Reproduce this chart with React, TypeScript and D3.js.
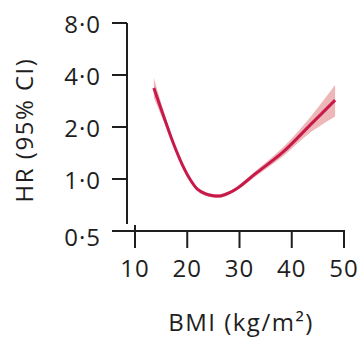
import React from "react";
import * as d3 from "d3";

const bmi = [13.6, 15.5, 17.3, 19, 20.5, 22, 23.5, 25, 26.5, 28, 29.5, 33, 38.3, 43.5, 48.3];
const hr = [3.36, 2.3, 1.62, 1.22, 1.0, 0.87, 0.82, 0.8, 0.8, 0.83, 0.88, 1.07, 1.43, 2.05, 2.86];
const hrLower = [2.95, 2.15, 1.55, 1.18, 0.97, 0.85, 0.8, 0.78, 0.78, 0.81, 0.86, 1.03, 1.35, 1.85, 2.3];
const hrUpper = [3.85, 2.47, 1.69, 1.26, 1.03, 0.89, 0.84, 0.82, 0.82, 0.85, 0.9, 1.11, 1.52, 2.27, 3.5];

const yTicks = [0.5, 1, 2, 4, 8];
const yTickLabels = ["0·5", "1·0", "2·0", "4·0", "8·0"];
const xTicks = [10, 20, 30, 40, 50];

export default function App() {
  const W = 362, H = 338;
  const x = d3.scaleLinear().domain([10, 50]).range([135, 344]);
  const y = d3.scaleLog().base(2).domain([0.5, 8]).range([231, 23]);
  const pts = bmi.map((b, i) => ({ b, h: hr[i], lo: hrLower[i], hi: hrUpper[i] }));
  const curve = d3.curveCatmullRom.alpha(0.5);
  const line = d3.line<any>().x(d => x(d.b)).y(d => y(d.h)).curve(curve);
  const area = d3.area<any>().x(d => x(d.b)).y0(d => y(d.lo)).y1(d => y(d.hi)).curve(curve);
  const font = "'Open Sans', sans-serif";
  const axisColor = "#1e1e1e";
  return (
    <div style={{ position: "fixed", left: 0, top: 0 }}>
      <svg width={W} height={H} style={{ display: "block", background: "#fff" }}>
        <path d={area(pts) || ""} fill="#eaa9aa" opacity={0.85} />
        <path d={line(pts) || ""} fill="none" stroke="#c8194b" strokeWidth={3} />
        {/* y axis */}
        <line x1={127} x2={127} y1={y(8)} y2={224} stroke={axisColor} strokeWidth={2} />
        {yTicks.map((t, i) => (
          <g key={t}>
            <line x1={112} x2={127} y1={y(t)} y2={y(t)} stroke={axisColor} strokeWidth={2} />
            <text x={101} y={y(t) + (t === 0.5 ? 5 : 0)} textAnchor="end" dominantBaseline="central" fontFamily={font} fontSize={24} letterSpacing={1} fill={axisColor}>{yTickLabels[i]}</text>
          </g>
        ))}
        {/* x axis */}
        <line x1={118} x2={x(50) + 1} y1={231} y2={231} stroke={axisColor} strokeWidth={2} />
        {xTicks.map((t, i) => (
          <g key={t}>
            <line x1={x(t)} x2={x(t)} y1={i === 0 ? 225 : 231} y2={248} stroke={axisColor} strokeWidth={2} />
            <text x={x(t)} y={277} textAnchor="middle" fontFamily={font} fontSize={24} letterSpacing={1} fill={axisColor}>{t}</text>
          </g>
        ))}
        <text x={241} y={331} textAnchor="middle" fontFamily={font} fontSize={24} letterSpacing={1.5} fill={axisColor}>BMI (kg/m²)</text>
        <text transform="translate(33,130) rotate(-90)" textAnchor="middle" fontFamily={font} fontSize={24} letterSpacing={1.5} fill={axisColor}>HR (95% CI)</text>
      </svg>
    </div>
  );
}
